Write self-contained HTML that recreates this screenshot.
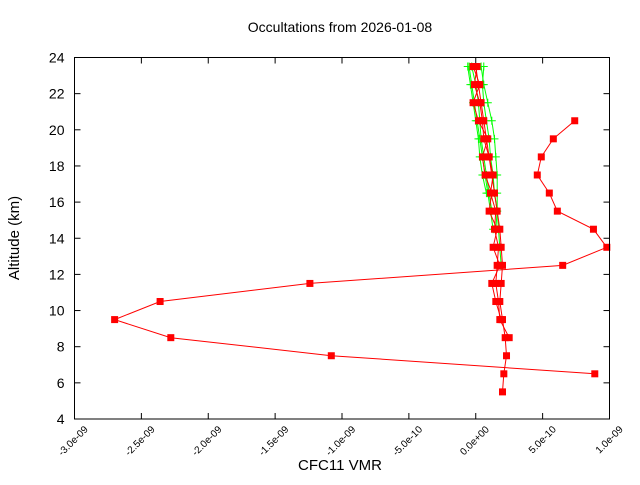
<!DOCTYPE html>
<html><head><meta charset="utf-8"><style>
body{margin:0;background:#fff}
svg text{font-family:"Liberation Sans",sans-serif;fill:#000}
</style></head><body>
<svg id="chart" width="640" height="480" xmlns="http://www.w3.org/2000/svg">
<rect width="640" height="480" fill="#fff"/>
<text x="340" y="32" font-size="14" text-anchor="middle">Occultations from 2026-01-08</text>
<text x="340" y="470" font-size="15" text-anchor="middle">CFC11 VMR</text>
<text transform="translate(19,238) rotate(-90)" font-size="15" text-anchor="middle">Altitude (km)</text>
<g id="grid"></g>
<g id="series"></g>
<rect x="74.5" y="57.5" width="535" height="361.5" fill="none" stroke="#000" stroke-width="1"/>
</svg>
<script>
// values in units of 1e-10
const xTicks = [-30,-25,-20,-15,-10,-5,0,5,10];
const xTickLabels = ["-3.0e-09","-2.5e-09","-2.0e-09","-1.5e-09","-1.0e-09","-5.0e-10","0.0e+00","5.0e-10","1.0e-09"];
const yTicks = [4,6,8,10,12,14,16,18,20,22,24];
const greenAlts1 = [23.5,22.5,21.5,20.5,19.5,18.5,17.5,16.5,15.5,14.5];
const green1 = [-0.5,-0.3,-0.1,0.1,0.3,0.5,0.7,0.9,1.1,1.3];
const green2 = [0.4,0.6,0.9,1.2,1.4,1.5,1.6,1.6,1.6,1.5];
const greenAlts3 = [23.5,22.5,21.5,20.5,19.5,18.5,17.5,16.5,15.5];
const green3 = [-0.3,0,0.2,0.3,0.4,0.6,0.8,1.0,1.2];
const greenAlts4 = [23.5,22.5,21.5,20.5,19.5,18.5,17.5,16.5,15.5,14.5,13.5,12.5];
const green4 = [0.6,0.5,0.6,0.8,1.0,1.1,1.3,1.4,1.6,1.7,1.8,1.9];
const greenAlts5 = [23.5,22.5,21.5,20.5,19.5,18.5,17.5,16.5];
const green5 = [-0.6,-0.4,-0.2,0,0.2,0.3,0.5,0.8];
const redAltsA = [20.5,19.5,18.5,17.5,16.5,15.5,14.5,13.5,12.5,11.5,10.5,9.5,8.5,7.5,6.5];
const redA = [7.4,5.8,4.9,4.6,5.5,6.1,8.8,9.8,6.5,-12.4,-23.6,-27.0,-22.8,-10.8,8.9];
const redAltsB = [23.5,22.5,21.5,20.5,19.5,18.5,17.5,16.5,15.5,14.5,13.5,12.5,11.5,10.5,9.5,8.5,7.5,6.5,5.5];
const redB = [0,0.2,0.4,0.6,0.8,1.0,1.2,1.4,1.6,1.8,1.9,2.0,1.9,1.8,2.0,2.2,2.3,2.1,2.0];
const redAltsC = [23.5,22.5,21.5,20.5,19.5,18.5,17.5,16.5,15.5,14.5,13.5,12.5,11.5,10.5,9.5,8.5];
const redC = [0.1,-0.1,0.3,0.5,0.6,1.0,1.3,1.1,1.5,1.4,1.7,1.6,1.5,1.7,1.8,2.5];
const redAltsD = [23.5,22.5,21.5,20.5,19.5,18.5,17.5,16.5,15.5,14.5,13.5,12.5,11.5,10.5,9.5];
const redD = [-0.2,0.3,-0.2,0.2,0.9,0.5,0.7,1.2,1.0,1.6,1.3,1.8,1.2,1.5,1.9];

const X0=74.5,X1=609.5,Y0=419,Y1=57.5;
const xS=v=>X0+(v+30)/40*(X1-X0);
const yS=a=>Y0-(a-4)/20*(Y0-Y1);
const NS="http://www.w3.org/2000/svg";
const grid=document.getElementById('grid'), ser=document.getElementById('series');
function mk(t,p,attrs){const e=document.createElementNS(NS,t);for(const k in attrs)e.setAttribute(k,attrs[k]);p.appendChild(e);return e;}
xTicks.forEach((v,i)=>{
  const x=xS(v);
  const t=mk('line',grid,{x1:x,x2:x,y1:Y0,y2:Y0-6,stroke:'#000'});
  
  
  const t2=mk('line',grid,{x1:x,x2:x,y1:Y1,y2:Y1+6,stroke:'#000'});
  
  
  const l=mk('text',grid,{transform:`translate(${x+14},${Y0+11}) rotate(-45)`,'font-size':'10','text-anchor':'end'});
  l.textContent=xTickLabels[i];
  
  
});
yTicks.forEach(v=>{
  const y=yS(v);
  const t=mk('line',grid,{x1:X0,x2:X0+6,y1:y,y2:y,stroke:'#000'});
  
  
  const t2=mk('line',grid,{x1:X1,x2:X1-6,y1:y,y2:y,stroke:'#000'});
  
  
  const l=mk('text',grid,{x:X0-10,y:y+5,'font-size':'14','text-anchor':'end'});
  l.textContent=v;
  
  
});
function drawSeries(vals,alts,color,marker,name){
  const g=mk('g',ser,{});
  
  
  const pts=vals.map((v,i)=>xS(v).toFixed(1)+','+yS(alts[i]).toFixed(1)).join(' ');
  mk('polyline',g,{points:pts,fill:'none',stroke:color,'stroke-width':'1'});
  vals.forEach((v,i)=>{
    const x=xS(v),y=yS(alts[i]);
    if(marker==='sq'){
      const r=mk('rect',g,{x:x-3.5,y:y-3.5,width:7,height:7,fill:color});
      
      
    }else{
      const p=mk('path',g,{d:`M${x-4},${y}H${x+4}M${x},${y-4}V${y+4}`,stroke:color,'stroke-width':'1'});
      
      
    }
  });
}
drawSeries(green1,greenAlts1,'#00ff00','plus','green-series-1');
drawSeries(green2,greenAlts1,'#00ff00','plus','green-series-2');
drawSeries(green3,greenAlts3,'#00ff00','plus','green-series-3');
drawSeries(green4,greenAlts4,'#00ff00','plus','green-series-4');
drawSeries(green5,greenAlts5,'#00ff00','plus','green-series-5');
drawSeries(redB,redAltsB,'#ff0000','sq','red-series-b');
drawSeries(redC,redAltsC,'#ff0000','sq','red-series-c');
drawSeries(redD,redAltsD,'#ff0000','sq','red-series-d');
drawSeries(redA,redAltsA,'#ff0000','sq','red-series-a');
</script>
</body></html>
